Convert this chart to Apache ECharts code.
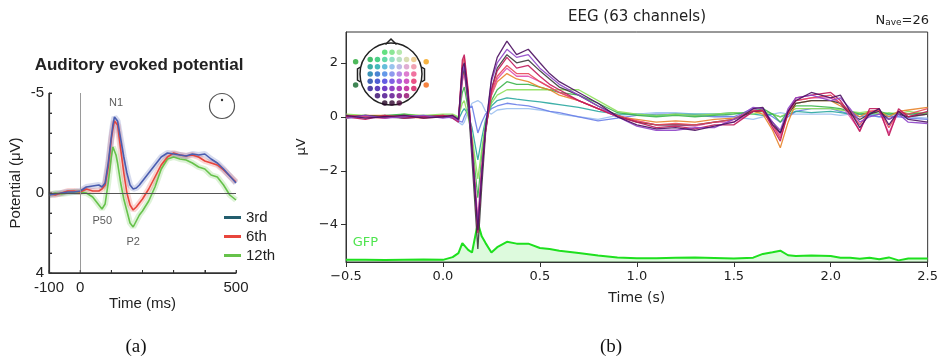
<!DOCTYPE html>
<html><head><meta charset="utf-8">
<script src="https://cdn.jsdelivr.net/npm/echarts@6/dist/echarts.min.js"></script>
<style>html,body{margin:0;padding:0;background:#fff}#c{width:941px;height:362px}</style>
</head><body><div id="c"></div>
<script>
// ---------- Panel (a): auditory evoked potential ----------
const timeA = [-100,-80,-60,-40,-20,0,20,40,60,70,80,90,100,105,110,115,120,130,140,150,160,170,180,190,200,220,240,260,280,300,320,340,360,380,400,420,440,460,480,500];
const aep3rd = [0.1,0.05,0.0,-0.05,-0.05,-0.1,-0.3,-0.35,-0.4,-0.3,-0.5,-1.5,-2.8,-3.4,-3.8,-3.9,-3.6,-2.7,-1.8,-1.0,-0.4,-0.2,-0.25,-0.4,-0.6,-1.0,-1.4,-1.8,-2.0,-1.95,-1.9,-1.85,-1.95,-1.9,-1.95,-1.7,-1.5,-1.2,-0.85,-0.5];
const aep6th = [0.05,0.1,0.0,-0.1,-0.1,-0.05,-0.2,-0.1,-0.1,-0.2,-0.4,-1.3,-2.7,-3.2,-3.6,-3.7,-3.4,-2.2,-1.0,0.0,0.6,0.85,0.7,0.5,0.3,-0.2,-0.8,-1.4,-1.8,-2.0,-1.9,-1.85,-1.9,-1.8,-1.6,-1.5,-1.4,-1.15,-0.85,-0.55];
const aep12th = [0.1,0.0,0.05,0.0,-0.05,-0.05,0.0,0.2,0.6,0.8,0.55,-0.5,-1.8,-2.3,-2.2,-1.9,-1.5,-0.5,0.3,0.9,1.5,1.7,1.4,1.1,0.9,0.4,-0.3,-1.2,-1.7,-1.8,-1.7,-1.65,-1.5,-1.3,-1.2,-0.9,-0.8,-0.4,0.1,0.35];
const legendNamesA = ['3rd','6th','12th'];
const xTickLabelsA = [-100,0,500];
const yTickLabelsA = [-5,0,4];
const xTicksA = [-100,0,100,200,300,400,500];
const yTicksA = [-5,-4,-3,-2,-1,0,1,2,3,4];
const peakLabels = ['N1','P50','P2'];
const peakTimes = [115,71,170];
const peakValues = [-4.5,1.4,2.45];

// ---------- Panel (b): EEG butterfly plot ----------
const timeB = [-0.5,-0.4,-0.3,-0.2,-0.1,0.0,0.05,0.08,0.1,0.11,0.13,0.15,0.18,0.2,0.22,0.25,0.28,0.33,0.38,0.44,0.5,0.55,0.6,0.7,0.8,0.9,1.0,1.1,1.2,1.3,1.4,1.5,1.6,1.65,1.7,1.74,1.78,1.82,1.9,2.0,2.05,2.1,2.15,2.2,2.25,2.3,2.35,2.4,2.5];
const chLightBlue = [0.0,-0.05,0.0,0.05,0.0,0.0,-0.05,-0.2,-0.3,-0.2,0.2,0.5,0.6,0.5,0.2,0.1,0.25,0.3,0.3,0.3,0.25,0.2,0.1,0.0,-0.1,0.05,0.1,0.15,0.15,0.1,0.1,0.0,-0.1,0.0,0.1,0.15,0.1,0.1,0.1,0.1,0.05,0.1,0.1,0.05,0.0,0.05,0.05,0.0,-0.05];
const chBlue = [-0.05,0.0,0.05,-0.05,0.0,0.05,-0.05,-0.15,-0.2,0.0,0.3,0.4,-0.6,-0.2,0.1,0.3,0.4,0.5,0.45,0.4,0.3,0.2,0.15,0.0,-0.15,-0.05,0.05,0.1,0.1,0.05,0.0,0.0,0.3,0.2,0.0,-0.2,0.0,0.2,0.3,0.3,0.2,0.1,0.0,0.05,0.0,0.0,0.0,-0.05,-0.1];
const chTeal = [0.0,0.05,0.0,0.0,0.05,0.0,0.0,-0.1,0.2,0.3,0.1,-0.4,-1.6,-0.8,-0.1,0.4,0.6,0.7,0.65,0.6,0.55,0.5,0.45,0.35,0.2,0.1,0.1,0.05,0.1,0.1,0.1,0.15,0.1,0.05,0.1,0.0,0.1,0.2,0.15,0.2,0.15,0.1,0.1,0.1,0.1,0.1,0.1,0.1,0.1];
const chLime = [0.1,0.05,0.0,0.1,0.05,0.1,0.1,0.0,0.5,0.6,0.0,-0.7,-2.3,-1.2,-0.2,0.5,0.8,1.0,1.0,1.0,1.0,1.0,1.0,1.0,0.6,0.2,0.1,0.05,0.1,0.05,0.1,0.15,0.1,0.2,0.1,0.0,0.15,0.3,0.3,0.3,0.25,0.2,0.15,0.2,0.1,0.15,0.1,0.2,0.1];
const chGreen = [0.05,0.0,0.05,0.1,0.0,0.05,0.05,-0.05,0.9,1.1,0.3,-0.9,-3.0,-1.5,-0.3,0.6,1.0,1.3,1.2,1.2,1.1,1.0,0.9,0.8,0.5,0.15,0.05,0.0,0.05,0.0,0.05,0.1,0.2,0.3,0.1,-0.2,0.2,0.4,0.4,0.35,0.3,0.2,0.1,0.15,0.2,0.1,0.15,0.1,0.15];
const chOrange = [-0.05,0.05,0.05,0.0,-0.05,0.05,0.0,-0.1,1.4,1.7,0.6,-1.2,-4.2,-2.0,-0.5,0.8,1.3,1.6,1.4,1.3,1.1,1.0,0.8,0.6,0.3,0.0,-0.1,-0.2,-0.15,-0.2,-0.1,-0.05,0.2,0.1,-0.5,-1.15,-0.2,0.5,0.6,0.6,0.4,0.2,0.0,0.2,0.2,0.0,0.2,0.25,0.35];
const chMagenta = [0.05,0.0,-0.05,0.05,0.0,0.0,0.05,-0.1,1.3,1.6,0.5,-1.0,-3.8,-1.8,-0.4,0.8,1.4,1.8,1.5,1.5,1.3,1.1,0.9,0.6,0.3,0.0,-0.15,-0.3,-0.3,-0.35,-0.2,-0.2,0.2,0.2,-0.3,-0.7,0.2,0.6,0.7,0.7,0.5,0.0,-0.5,0.2,0.2,-0.6,0.2,0.0,0.1];
const chGrey = [0.0,0.05,0.0,-0.05,0.0,0.0,0.0,-0.1,1.5,1.8,0.5,-1.6,-4.9,-2.6,-0.6,1.0,1.8,2.3,2.0,2.1,1.7,1.4,1.1,0.8,0.4,0.05,-0.2,-0.3,-0.3,-0.3,-0.2,-0.1,0.2,0.2,-0.2,-0.6,0.1,0.5,0.6,0.6,0.5,0.1,-0.1,0.1,0.2,-0.1,0.1,0.0,0.1];
const chRed = [0.05,0.0,-0.05,0.05,-0.05,0.0,0.05,-0.15,1.9,2.2,0.9,-1.0,-4.1,-2.0,-0.5,0.9,1.5,1.9,1.6,1.6,1.3,1.1,0.9,0.6,0.3,0.05,-0.15,-0.3,-0.25,-0.3,-0.2,-0.1,0.25,0.2,-0.3,-0.8,0.1,0.6,0.7,0.8,0.5,0.2,-0.3,0.2,0.25,-0.4,0.2,0.1,0.3];
const chCrimson = [0.0,-0.1,0.05,-0.05,0.0,0.05,-0.05,-0.2,2.1,2.3,1.0,-1.1,-4.3,-2.1,-0.5,1.0,1.7,2.2,1.8,1.9,1.5,1.2,1.0,0.6,0.3,0.0,-0.2,-0.4,-0.35,-0.45,-0.3,-0.3,0.2,0.25,-0.4,-0.9,0.2,0.7,0.8,0.9,0.6,0.1,-0.55,0.3,0.3,-0.7,0.3,0.0,0.2];
const chPurple = [-0.05,0.05,-0.05,0.0,0.05,-0.05,0.0,-0.15,1.6,1.9,0.7,-1.3,-4.0,-2.1,-0.4,1.3,2.0,2.5,2.2,2.3,1.8,1.5,1.2,0.8,0.4,0.0,-0.35,-0.5,-0.5,-0.4,-0.4,-0.1,0.35,0.3,-0.2,-0.5,0.3,0.7,0.8,0.6,0.7,0.3,-0.2,0.0,0.1,-0.1,0.1,-0.2,-0.25];
const chDarkPurple = [0.05,-0.05,0.0,0.05,-0.05,0.0,0.05,-0.1,1.8,2.0,0.8,-1.2,-4.2,-2.2,-0.4,1.4,2.2,2.8,2.3,2.5,2.0,1.6,1.3,0.9,0.5,0.0,-0.3,-0.45,-0.4,-0.5,-0.35,-0.2,0.3,0.35,-0.3,-0.6,0.2,0.6,0.9,0.7,0.8,0.2,-0.4,0.1,0.3,-0.3,0.2,-0.1,-0.2];
const gfp = [0.08,0.08,0.07,0.08,0.09,0.08,0.18,0.33,0.7,0.65,0.45,0.35,1.45,0.95,0.7,0.35,0.55,0.75,0.68,0.68,0.52,0.48,0.42,0.33,0.24,0.17,0.14,0.14,0.16,0.17,0.15,0.13,0.16,0.3,0.36,0.42,0.25,0.22,0.24,0.22,0.16,0.16,0.12,0.16,0.1,0.17,0.06,0.13,0.13];
const xTicksB = [-0.5,0.0,0.5,1.0,1.5,2.0,2.5];
const yTicksB = [-4,-2,0,2];

// electrode layout of the sensor inset (grid units)
const elecX = [-1,0,1,-3,-2,-1,0,1,2,3,-3,-2,-1,0,1,2,3,-3,-2,-1,0,1,2,3,-3,-2,-1,0,1,2,3,-3,-2,-1,0,1,2,3,-2,-1,0,1,2,-1,0,1,-5,-5,4.7,4.7];
const elecY = [-3,-3,-3,-2,-2,-2,-2,-2,-2,-2,-1,-1,-1,-1,-1,-1,-1,0,0,0,0,0,0,0,1,1,1,1,1,1,1,2,2,2,2,2,2,2,3,3,3,3,3,4,4,4,-1.7,1.5,-1.7,1.5];

// ---------- styles ----------
const elecColors = ['#3ed862','#6fe07a','#a6e49a',
 '#18b048','#22c46a','#40d090','#7ad8b8','#aad8b4','#cfd4a0','#e8c27a',
 '#0a9a8c','#16a8aa','#40aed2','#80b4ea','#b0a8e0','#d898c8','#ee8ca0',
 '#0a78a6','#1e66c8','#3e80e4','#7280ea','#a46ee0','#d45cc4','#ec5088',
 '#143ea6','#2236c8','#3e36dc','#6236dc','#9434d4','#c42cb4','#e62868',
 '#24108e','#3410aa','#5010b8','#7410b8','#9810a8','#bc1090','#d2145a',
 '#32066a','#44068a','#58068c','#760682','#92066c',
 '#220424','#300430','#48063a',
 '#22a832','#10682a','#f4a012','#f46410'];
const colorsA = ['#4a5db0','#e8453c','#66c24a'];
const FA = '"Liberation Sans", Arial, sans-serif';
const FB = '"DejaVu Sans", sans-serif';
const FS = '"Liberation Serif", "DejaVu Serif", serif';
const XA = { min: -100, max: 500 };
const YA = { min: -5, max: 4 };

const pairs = (ts, vs) => ts.map((t, i) => [t, vs[i]]);
const minus = s => String(s).replace('-', '\u2212');

const channelSeries = [
  [chLightBlue, '#9cc0f0'], [chBlue, '#6a7ee8'], [chTeal, '#2aa7a0'], [chLime, '#8ee05a'],
  [chGreen, '#3cb44b'], [chOrange, '#e8842a'], [chMagenta, '#e050b0'], [chGrey, '#3a3a3a'],
  [chRed, '#e8485a'], [chCrimson, '#c0185a'], [chPurple, '#8e44c8'], [chDarkPurple, '#4b1060']
].map(([vals, col]) => ({
  type: 'line', xAxisIndex: 1, yAxisIndex: 1, data: pairs(timeB, vals),
  symbol: 'none', silent: true, lineStyle: { width: 1.3, color: col, opacity: 0.9 }
}));

const aSeries = [];
const aData = [aep3rd, aep6th, aep12th];
[2, 1, 0].forEach(i => {
  aSeries.push({
    type: 'line', xAxisIndex: 0, yAxisIndex: 0, data: pairs(timeA, aData[i]), symbol: 'none', silent: true,
    lineStyle: { width: 6, color: colorsA[i], opacity: 0.22 }
  });
});
[2, 1, 0].forEach(i => {
  aSeries.push({
    name: legendNamesA[i], type: 'line', xAxisIndex: 0, yAxisIndex: 0, data: pairs(timeA, aData[i]),
    symbol: 'none', silent: true, itemStyle: { color: colorsA[i] }, lineStyle: { width: 1.6, color: colorsA[i] }
  });
});
// zero reference lines of panel (a)
aSeries.unshift({
  type: 'line', xAxisIndex: 0, yAxisIndex: 0, data: [], silent: true,
  markLine: {
    silent: true, symbol: ['none', 'none'], label: { show: false }, animation: false,
    data: [
      { yAxis: 0, lineStyle: { color: '#555', width: 1, type: 'solid' } },
      { xAxis: 0, lineStyle: { color: '#9a9a9a', width: 1, type: 'solid' } }
    ]
  }
});
// spines of panel (a), drawn as an unclipped series along the axis limits
aSeries.push({
  type: 'line', xAxisIndex: 0, yAxisIndex: 0, silent: true, clip: false, z: 20, symbol: 'none',
  data: [[XA.min, YA.min], [XA.min, YA.max], [XA.max, YA.max]],
  lineStyle: { color: '#333', width: 1.3 }
});
// inward tick marks of panel (a)
aSeries.push({
  type: 'scatter', xAxisIndex: 0, yAxisIndex: 0, silent: true, clip: false, z: 20,
  symbol: 'rect', symbolSize: [3, 1], symbolOffset: [1.5, 0],
  itemStyle: { color: '#333' }, data: yTicksA.map(v => [XA.min, v])
});
aSeries.push({
  type: 'scatter', xAxisIndex: 0, yAxisIndex: 0, silent: true, clip: false, z: 20,
  symbol: 'rect', symbolSize: [1, 3], symbolOffset: [0, -1.5],
  itemStyle: { color: '#333' }, data: xTicksA.map(t => [t, YA.max])
});

const graphicEls = [
  { type: 'text', x: 139, y: 65, style: { text: 'Auditory evoked potential', font: 'bold 17px ' + FA, fill: '#222', align: 'center', verticalAlign: 'middle' } },
  { type: 'circle', shape: { cx: 222, cy: 106, r: 12.5 }, style: { fill: 'none', stroke: '#555', lineWidth: 1.2 } },
  { type: 'circle', shape: { cx: 222, cy: 100, r: 1.2 }, style: { fill: '#333' } },
  { type: 'text', x: 637, y: 17, style: { text: 'EEG (63 channels)', font: '15px ' + FB, fill: '#222', align: 'center', verticalAlign: 'middle' } },
  { type: 'text', x: 929, y: 19, style: { text: '{n|N}{s|ave}{n|=26}', align: 'right', verticalAlign: 'middle', fill: '#222',
      rich: { n: { fontSize: 13, fontFamily: FB, lineHeight: 16, verticalAlign: 'bottom' }, s: { fontSize: 9, fontFamily: FB, lineHeight: 9, verticalAlign: 'bottom' } } } },
  { type: 'circle', z: 4, shape: { cx: 391, cy: 74, r: 31 }, style: { fill: 'none', stroke: '#222', lineWidth: 1.5 } },
  { type: 'polyline', z: 4, shape: { points: [[385.5, 44.5], [391, 39], [396.5, 44.5]] }, style: { fill: 'none', stroke: '#222', lineWidth: 1.5 } },
  { type: 'polyline', z: 4, shape: { points: [[360.5, 67], [357.5, 69], [357.5, 80], [360.5, 82]] }, style: { fill: 'none', stroke: '#222', lineWidth: 1.5 } },
  { type: 'polyline', z: 4, shape: { points: [[421.5, 67], [424.5, 69], [424.5, 80], [421.5, 82]] }, style: { fill: 'none', stroke: '#222', lineWidth: 1.5 } },
  { type: 'text', x: 136, y: 347, style: { text: '(a)', font: '19px ' + FS, fill: '#111', align: 'center', verticalAlign: 'middle' } },
  { type: 'text', x: 611, y: 347, style: { text: '(b)', font: '19px ' + FS, fill: '#111', align: 'center', verticalAlign: 'middle' } }
];

const option = {
  animation: false,
  grid: [
    { left: 49, top: 93, width: 187, height: 180, show: false },
    { left: 346, top: 32, width: 584, height: 230, show: true, borderColor: '#333', borderWidth: 1 },
    { left: 352, top: 38, width: 80, height: 72, show: false }
  ],
  legend: {
    data: [
      { name: '3rd', itemStyle: { color: '#235e6e' } },
      { name: '6th' }, { name: '12th' }
    ],
    orient: 'vertical', left: 219, top: 205, itemWidth: 17, itemHeight: 3, itemGap: 4, icon: 'rect',
    selectedMode: false, textStyle: { fontFamily: FA, fontSize: 15, color: '#222' }
  },
  xAxis: [
    { gridIndex: 0, type: 'value', position: 'bottom', min: XA.min, max: XA.max, interval: 100,
      axisLine: { show: true, onZero: false, lineStyle: { color: '#333', width: 1.2 } },
      axisTick: { show: true, inside: true, length: 3, lineStyle: { color: '#333' } },
      axisLabel: { formatter: v => xTickLabelsA.includes(v) ? String(v) : '', fontFamily: FA, fontSize: 15, color: '#222', margin: 7 },
      splitLine: { show: false },
      name: 'Time (ms)', nameLocation: 'middle', nameGap: 23,
      nameTextStyle: { fontFamily: FA, fontSize: 15, color: '#222' } },
    { gridIndex: 1, type: 'value', position: 'bottom', min: -0.5, max: 2.5, interval: 0.5,
      axisLine: { show: true, onZero: false, lineStyle: { color: '#333' } },
      axisTick: { show: true, inside: false, length: 5, lineStyle: { color: '#333' } },
      axisLabel: { formatter: v => xTicksB.includes(v) ? minus(v.toFixed(1)) : '', fontFamily: FB, fontSize: 13, color: '#222', margin: 8 },
      splitLine: { show: false },
      name: 'Time (s)', nameLocation: 'middle', nameGap: 29,
      nameTextStyle: { fontFamily: FB, fontSize: 14, color: '#222' } },
    { gridIndex: 2, type: 'value', min: -5.5, max: 5.5, show: false }
  ],
  yAxis: [
    { gridIndex: 0, type: 'value', position: 'left', inverse: true, min: YA.min, max: YA.max, interval: 1,
      axisLine: { show: true, onZero: false, lineStyle: { color: '#333', width: 1.2 } },
      axisTick: { show: true, inside: true, length: 3, lineStyle: { color: '#333' } },
      axisLabel: { formatter: v => yTickLabelsA.includes(v) ? String(v) : '', fontFamily: FA, fontSize: 15, color: '#222', margin: 5 },
      splitLine: { show: false },
      name: 'Potential (\u03bcV)', nameLocation: 'middle', nameGap: 26, nameRotate: 90,
      nameTextStyle: { fontFamily: FA, fontSize: 15, color: '#222' } },
    { gridIndex: 1, type: 'value', position: 'left', min: -5.38, max: 3.14,
      axisLine: { show: true, onZero: false, lineStyle: { color: '#333' } },
      axisTick: { show: true, inside: false, length: 5, customValues: yTicksB, lineStyle: { color: '#333' } },
      axisLabel: { customValues: yTicksB, formatter: v => minus(v), fontFamily: FB, fontSize: 13, color: '#222', margin: 8 },
      splitLine: { show: false },
      name: '\u03bcV', nameLocation: 'middle', nameGap: 31, nameRotate: 90,
      nameTextStyle: { fontFamily: FB, fontSize: 13, color: '#222' } },
    { gridIndex: 1, type: 'value', position: 'right', min: 0, max: 8.52, show: false },
    { gridIndex: 2, type: 'value', min: -4.95, max: 4.95, inverse: true, show: false }
  ],
  series: [
    ...aSeries,
    { type: 'scatter', xAxisIndex: 0, yAxisIndex: 0, silent: true, symbolSize: 1,
      itemStyle: { color: 'transparent' },
      data: peakLabels.map((s, i) => [peakTimes[i], peakValues[i], s]),
      label: { show: true, position: 'inside', formatter: p => p.value[2], fontFamily: FA, fontSize: 11, color: '#333' } },
    { type: 'line', xAxisIndex: 1, yAxisIndex: 2, data: pairs(timeB, gfp), symbol: 'none', silent: true,
      lineStyle: { color: '#1ee01e', width: 2 }, areaStyle: { color: 'rgba(60,225,60,0.25)', origin: 'start' } },
    ...channelSeries,
    { type: 'scatter', xAxisIndex: 1, yAxisIndex: 1, silent: true, symbolSize: 1,
      itemStyle: { color: 'transparent' }, data: [[-0.40, -4.68, 'GFP']],
      label: { show: true, position: 'inside', formatter: p => p.value[2], fontFamily: FB, fontSize: 13, color: '#22dd22' } },
    { type: 'scatter', xAxisIndex: 2, yAxisIndex: 3, silent: true, symbolSize: 5.5, z: 5,
      data: elecX.map((x, i) => ({ value: [x, elecY[i]], itemStyle: { color: elecColors[i] } })) }
  ],
  graphic: graphicEls
};
const chart = echarts.init(document.getElementById('c'), null, { renderer: 'canvas' });
chart.setOption(option);
</script></body></html>
